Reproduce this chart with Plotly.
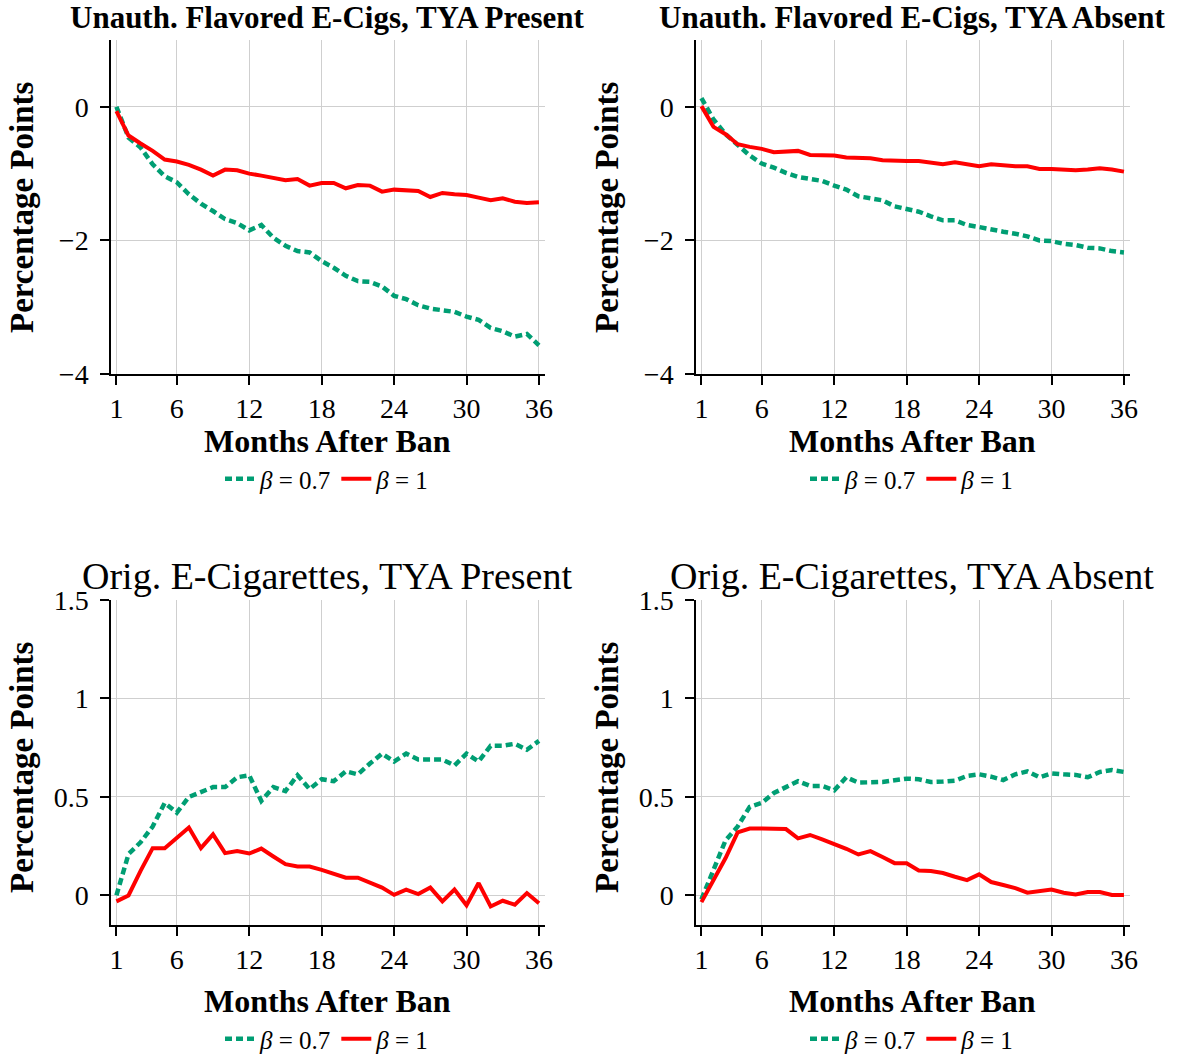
import plotly.graph_objects as go

months = list(range(1, 37))
x_ticks = [1, 6, 12, 18, 24, 30, 36]

# Unauth. Flavored E-Cigs, TYA Present
flav_present_b07 = [0.0, -0.46, -0.61, -0.86, -1.04, -1.13, -1.31, -1.45, -1.56, -1.68,
                    -1.74, -1.85, -1.77, -1.96, -2.08, -2.16, -2.18, -2.31, -2.41, -2.53,
                    -2.61, -2.62, -2.69, -2.83, -2.88, -2.97, -3.02, -3.04, -3.07, -3.14,
                    -3.19, -3.31, -3.36, -3.44, -3.40, -3.57]
flav_present_b1 = [-0.065, -0.43, -0.55, -0.66, -0.79, -0.82, -0.87, -0.94, -1.03, -0.94,
                   -0.95, -1.00, -1.03, -1.07, -1.10, -1.08, -1.18, -1.14, -1.14, -1.22,
                   -1.17, -1.18, -1.27, -1.24, -1.25, -1.26, -1.35, -1.29, -1.31, -1.32,
                   -1.36, -1.40, -1.37, -1.42, -1.44, -1.43]

# Unauth. Flavored E-Cigs, TYA Absent
flav_absent_b07 = [0.13, -0.19, -0.41, -0.56, -0.73, -0.85, -0.91, -0.99, -1.05, -1.08,
                   -1.11, -1.18, -1.24, -1.34, -1.37, -1.40, -1.49, -1.53, -1.57, -1.64,
                   -1.70, -1.70, -1.77, -1.80, -1.84, -1.87, -1.90, -1.94, -2.00, -2.01,
                   -2.05, -2.07, -2.11, -2.12, -2.16, -2.18]
flav_absent_b1 = [0.01, -0.30, -0.41, -0.56, -0.60, -0.63, -0.68, -0.67, -0.66, -0.72,
                  -0.73, -0.73, -0.76, -0.76, -0.77, -0.80, -0.81, -0.81, -0.81, -0.83,
                  -0.86, -0.83, -0.86, -0.89, -0.86, -0.88, -0.89, -0.89, -0.93, -0.93,
                  -0.94, -0.95, -0.94, -0.92, -0.94, -0.97]

# Orig. E-Cigarettes, TYA Present
orig_present_b07 = [0.0, 0.21, 0.27, 0.35, 0.47, 0.42, 0.50, 0.525, 0.55, 0.55,
                    0.60, 0.61, 0.48, 0.55, 0.53, 0.61, 0.54, 0.59, 0.58, 0.63,
                    0.615, 0.67, 0.72, 0.68, 0.72, 0.69, 0.69, 0.69, 0.66, 0.72,
                    0.68, 0.76, 0.76, 0.77, 0.74, 0.785]
orig_present_b1 = [-0.03, 0.0, 0.125, 0.24, 0.24, 0.29, 0.345, 0.24, 0.31, 0.215,
                   0.226, 0.213, 0.238, 0.198, 0.159, 0.147, 0.147, 0.13, 0.11, 0.09,
                   0.09, 0.066, 0.04, 0.003, 0.03, 0.007, 0.04, -0.03, 0.03, -0.05,
                   0.063, -0.056, -0.027, -0.047, 0.012, -0.04]

# Orig. E-Cigarettes, TYA Absent
orig_absent_b07 = [-0.02, 0.13, 0.28, 0.35, 0.45, 0.47, 0.52, 0.55, 0.58, 0.556,
                   0.556, 0.534, 0.60, 0.573, 0.573, 0.576, 0.585, 0.593, 0.59, 0.576,
                   0.578, 0.583, 0.607, 0.615, 0.603, 0.586, 0.615, 0.63, 0.60, 0.62,
                   0.615, 0.612, 0.60, 0.627, 0.637, 0.627]
orig_absent_b1 = [-0.034, 0.08, 0.19, 0.32, 0.34, 0.34, 0.34, 0.337, 0.29, 0.307,
                  0.285, 0.263, 0.237, 0.208, 0.225, 0.195, 0.164, 0.163, 0.127, 0.124,
                  0.114, 0.095, 0.078, 0.107, 0.068, 0.053, 0.037, 0.014, 0.022, 0.03,
                  0.014, 0.005, 0.017, 0.017, 0.002, 0.002]

titles = ["Unauth. Flavored E-Cigs, TYA Present", "Unauth. Flavored E-Cigs, TYA Absent",
          "Orig. E-Cigarettes, TYA Present", "Orig. E-Cigarettes, TYA Absent"]
series = [(flav_present_b07, flav_present_b1), (flav_absent_b07, flav_absent_b1),
          (orig_present_b07, orig_present_b1), (orig_absent_b07, orig_absent_b1)]

W, H = 1185, 1055
GREEN = "#009E73"
RED = "#FF0000"
FONT = "Liberation Serif"

def px(x):
    return x / W

def py(y):
    return 1 - y / H

# panel pixel boxes: (left, right, top, bottom)
boxes = [(111, 545, 40, 374), (696, 1130, 40, 374),
         (111, 545, 600, 925), (696, 1130, 600, 925)]

fig = go.Figure()
annotations = []
layout = {}
for i, (box, (g, r), title) in enumerate(zip(boxes, series, titles)):
    n = i + 1
    xa = "x" if n == 1 else f"x{n}"
    ya = "y" if n == 1 else f"y{n}"
    lg = "legend" if n == 1 else f"legend{n}"
    fig.add_trace(go.Scatter(x=months, y=g, mode="lines", xaxis=xa, yaxis=ya,
                             line=dict(color=GREEN, width=4.5, dash="7px,4px"),
                             name="<i>β</i> = 0.7", legend=lg))
    fig.add_trace(go.Scatter(x=months, y=r, mode="lines", xaxis=xa, yaxis=ya,
                             line=dict(color=RED, width=4),
                             name="<i>β</i> = 1", legend=lg))
    l, rr, t, b = box
    top_row = i < 2
    left_col = n in (1, 3)
    xkey = "xaxis" if n == 1 else f"xaxis{n}"
    ykey = "yaxis" if n == 1 else f"yaxis{n}"
    layout[xkey] = dict(domain=[px(l), px(rr)], anchor=ya, range=[0.55, 36.5],
                        tickvals=x_ticks, ticktext=[str(v) for v in x_ticks],
                        showgrid=True, gridcolor="#cfcfcf", gridwidth=1,
                        showline=True, linecolor="black", linewidth=1.5,
                        ticks="outside", ticklen=9, tickwidth=1.5, tickcolor="black",
                        ticklabelstandoff=0,
                        zeroline=False, tickfont=dict(family=FONT, size=28, color="black"))
    if top_row:
        yr = [-4, 1]
        yt = [0, -2, -4]
        ytt = ["0", "−2", "−4"]
    else:
        yr = [-0.15, 1.5]
        yt = [0, 0.5, 1, 1.5]
        ytt = ["0", "0.5", "1", "1.5"]
    layout[ykey] = dict(domain=[py(b), py(t)], anchor=xa, range=yr,
                        tickvals=yt, ticktext=ytt,
                        showgrid=True, gridcolor="#cfcfcf", gridwidth=1,
                        showline=True, linecolor="black", linewidth=1.5,
                        ticks="outside", ticklen=9, tickwidth=1.5, tickcolor="black",
                        ticklabelstandoff=6,
                        zeroline=False, tickfont=dict(family=FONT, size=28, color="black"))
    cxp = 327 if left_col else 912
    if top_row:
        annotations.append(dict(text=f"<b>{title}</b>", x=px(cxp), y=py(17),
                                xref="paper", yref="paper", showarrow=False,
                                xanchor="center", yanchor="middle",
                                font=dict(family=FONT, size=31, color="black")))
    else:
        annotations.append(dict(text=title, x=px(cxp), y=py(576),
                                xref="paper", yref="paper", showarrow=False,
                                xanchor="center", yanchor="middle",
                                font=dict(family=FONT, size=38, color="black")))
    annotations.append(dict(text="<b>Months After Ban</b>", x=px(cxp),
                            y=py(441 if top_row else 1001), xref="paper", yref="paper",
                            showarrow=False, xanchor="center", yanchor="middle",
                            font=dict(family=FONT, size=32, color="black")))
    annotations.append(dict(text="<b>Percentage Points</b>", x=px(22 if left_col else 607),
                            y=py(207 if top_row else 767), xref="paper", yref="paper",
                            showarrow=False, xanchor="center", yanchor="middle", textangle=-90,
                            font=dict(family=FONT, size=33, color="black")))
    layout[lg] = dict(orientation="h", x=px(cxp),
                      y=py(479 if top_row else 1039), xanchor="center", yanchor="middle",
                      xref="paper", yref="paper", bgcolor="rgba(0,0,0,0)",
                      font=dict(family=FONT, size=25, color="black"),
                      itemwidth=30, tracegroupgap=0)

fig.update_layout(width=W, height=H, margin=dict(l=0, r=0, t=0, b=0, autoexpand=False),
                  plot_bgcolor="white", paper_bgcolor="white",
                  annotations=annotations, showlegend=True, **layout)
fig.write_html("out.html")
